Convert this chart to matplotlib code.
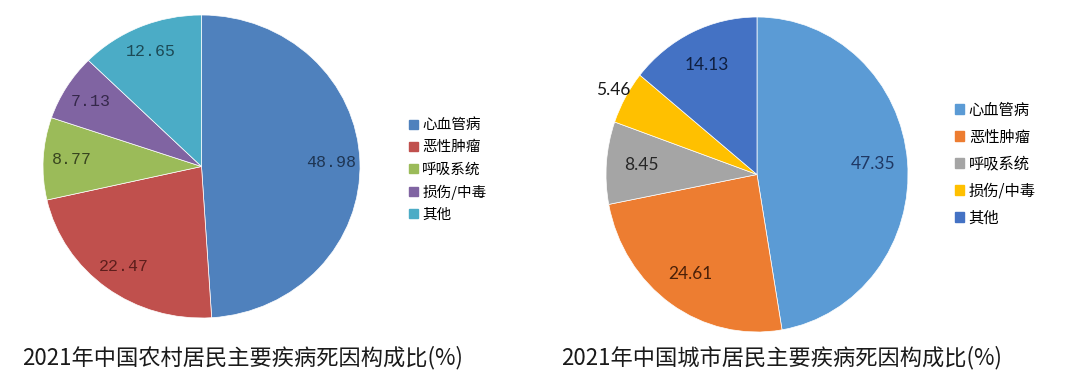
import matplotlib
matplotlib.use("Agg")
import matplotlib.pyplot as plt
from matplotlib.patches import Patch

plt.rcParams['font.family'] = ['Noto Sans CJK SC', 'DejaVu Sans']

# data
causes = ['心血管病', '恶性肿瘤', '呼吸系统', '损伤/中毒', '其他']
rural_values = [48.98, 22.47, 8.77, 7.13, 12.65]
urban_values = [47.35, 24.61, 8.45, 5.46, 14.13]
rural_title = '2021年中国农村居民主要疾病死因构成比(%)'
urban_title = '2021年中国城市居民主要疾病死因构成比(%)'

# styles
rural_colors = ['#4F81BD', '#C0504D', '#9BBB59', '#8064A2', '#4BACC6']
rural_text_colors = ['#1E3553', '#5E1E1C', '#38451F', '#35284A', '#1C4A56']
urban_colors = ['#5B9BD5', '#ED7D31', '#A5A5A5', '#FFC000', '#4472C4']
urban_text_colors = ['#1F3864', '#4A2008', '#262626', '#1A1A1A', '#0F1F40']

W, H = 1080, 386
fig = plt.figure(figsize=(W / 100, H / 100), dpi=100)


def draw_pie(box, values, colors, text_colors, pctdist, label_font, fsize):
    x0, y0, x1, y1 = box
    ax = fig.add_axes([x0 / W, (H - y1) / H, (x1 - x0) / W, (y1 - y0) / H])
    wedges, texts, autotexts = ax.pie(
        values, colors=colors, startangle=90, counterclock=False,
        autopct=lambda p: '', pctdistance=pctdist,
        wedgeprops=dict(edgecolor='white', linewidth=0.5))
    for v, t, c in zip(values, autotexts, text_colors):
        t.set_text(f'{v:.2f}')
        t.set_color(c)
        t.set_fontsize(fsize)
        t.set_family(label_font)
    ax.set_aspect('auto')
    ax.set_xlim(-1, 1)
    ax.set_ylim(-1, 1)
    return ax, autotexts


# left: rural
axl, tl = draw_pie((43, 15, 360, 318), rural_values, rural_colors,
                   rural_text_colors, 0.82, ['Liberation Mono'], 12)

# right: urban
axr, tr = draw_pie((606, 17, 908, 332), urban_values, urban_colors,
                   urban_text_colors, 0.77, ['Lato', 'DejaVu Sans'], 12.5)
# the small slice label sits outside the pie
x, y = tr[3].get_position()
tr[3].set_position((x * 1.42, y * 1.42))

# legends
fig.legend(handles=[Patch(color=c, label=n) for c, n in zip(rural_colors, causes)],
           loc='center left', bbox_to_anchor=(409 / W, (H - 170) / H),
           frameon=False, fontsize=10.5, handlelength=0.6, handleheight=0.6,
           handletextpad=0.3, labelspacing=0.55, borderpad=0, borderaxespad=0)
fig.legend(handles=[Patch(color=c, label=n) for c, n in zip(urban_colors, causes)],
           loc='center left', bbox_to_anchor=(955 / W, (H - 164) / H),
           frameon=False, fontsize=11, handlelength=0.6, handleheight=0.6,
           handletextpad=0.3, labelspacing=0.65, borderpad=0, borderaxespad=0)

# titles
fig.text(243 / W, (H - 358) / H, rural_title, ha='center', va='center',
         fontsize=16, color='#1a1a1a')
fig.text(782 / W, (H - 358) / H, urban_title, ha='center', va='center',
         fontsize=16, color='#1a1a1a')

fig.savefig('out.png', dpi=100, facecolor='white')
